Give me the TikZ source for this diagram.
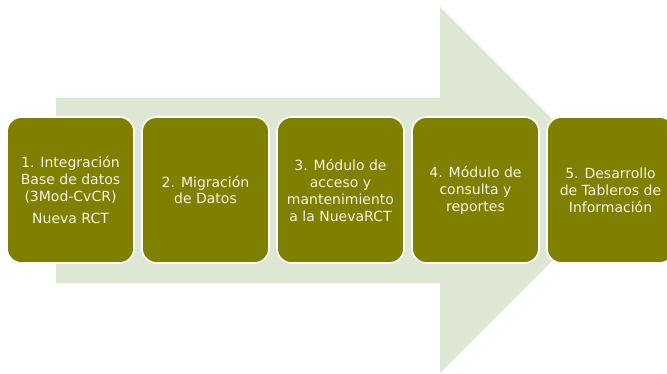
\documentclass[tikz,border=0pt]{standalone}
\usepackage{fontspec}
\setmainfont{DejaVu Sans}
\usetikzlibrary{positioning}

\definecolor{fasebg}{RGB}{222,231,212}
\definecolor{faseolive}{RGB}{128,128,0}
\definecolor{fasetext}{RGB}{244,244,232}

\tikzset{
  fase/.style={draw=white, line width=1.2pt, fill=faseolive, rounded corners=11pt,
    minimum width=95.25pt, minimum height=109.5pt, align=center, text=fasetext,
    font=\fontsize{10.5}{12.75}\selectfont, inner sep=2pt}
}

\begin{document}
\begin{tikzpicture}[x=0.75pt, y=-0.75pt, node distance=4.8pt]
\useasboundingbox (0,0) rectangle (667,374);

% flecha de fondo
\fill[fasebg] (56,98) -- (440,98) -- (440,7) -- (623,190) -- (440,373)
  -- (440,283) -- (56,283) -- cycle;

% fases
\node[fase] (integracion) at (70.5,190)
{1. Integración\\Base de datos\\(3Mod-CvCR)\\[4pt]Nueva RCT};

\node[fase, right=of integracion] (migracion)
{2. Migración\\de Datos};

\node[fase, right=of migracion] (acceso)
{3. Módulo de\\acceso y\\mantenimiento\\a la NuevaRCT};

\node[fase, right=of acceso] (consulta)
{4. Módulo de\\consulta y\\reportes};

\node[fase, right=of consulta] (tableros)
{5. Desarrollo\\de Tableros de\\Información};
\end{tikzpicture}
\end{document}
